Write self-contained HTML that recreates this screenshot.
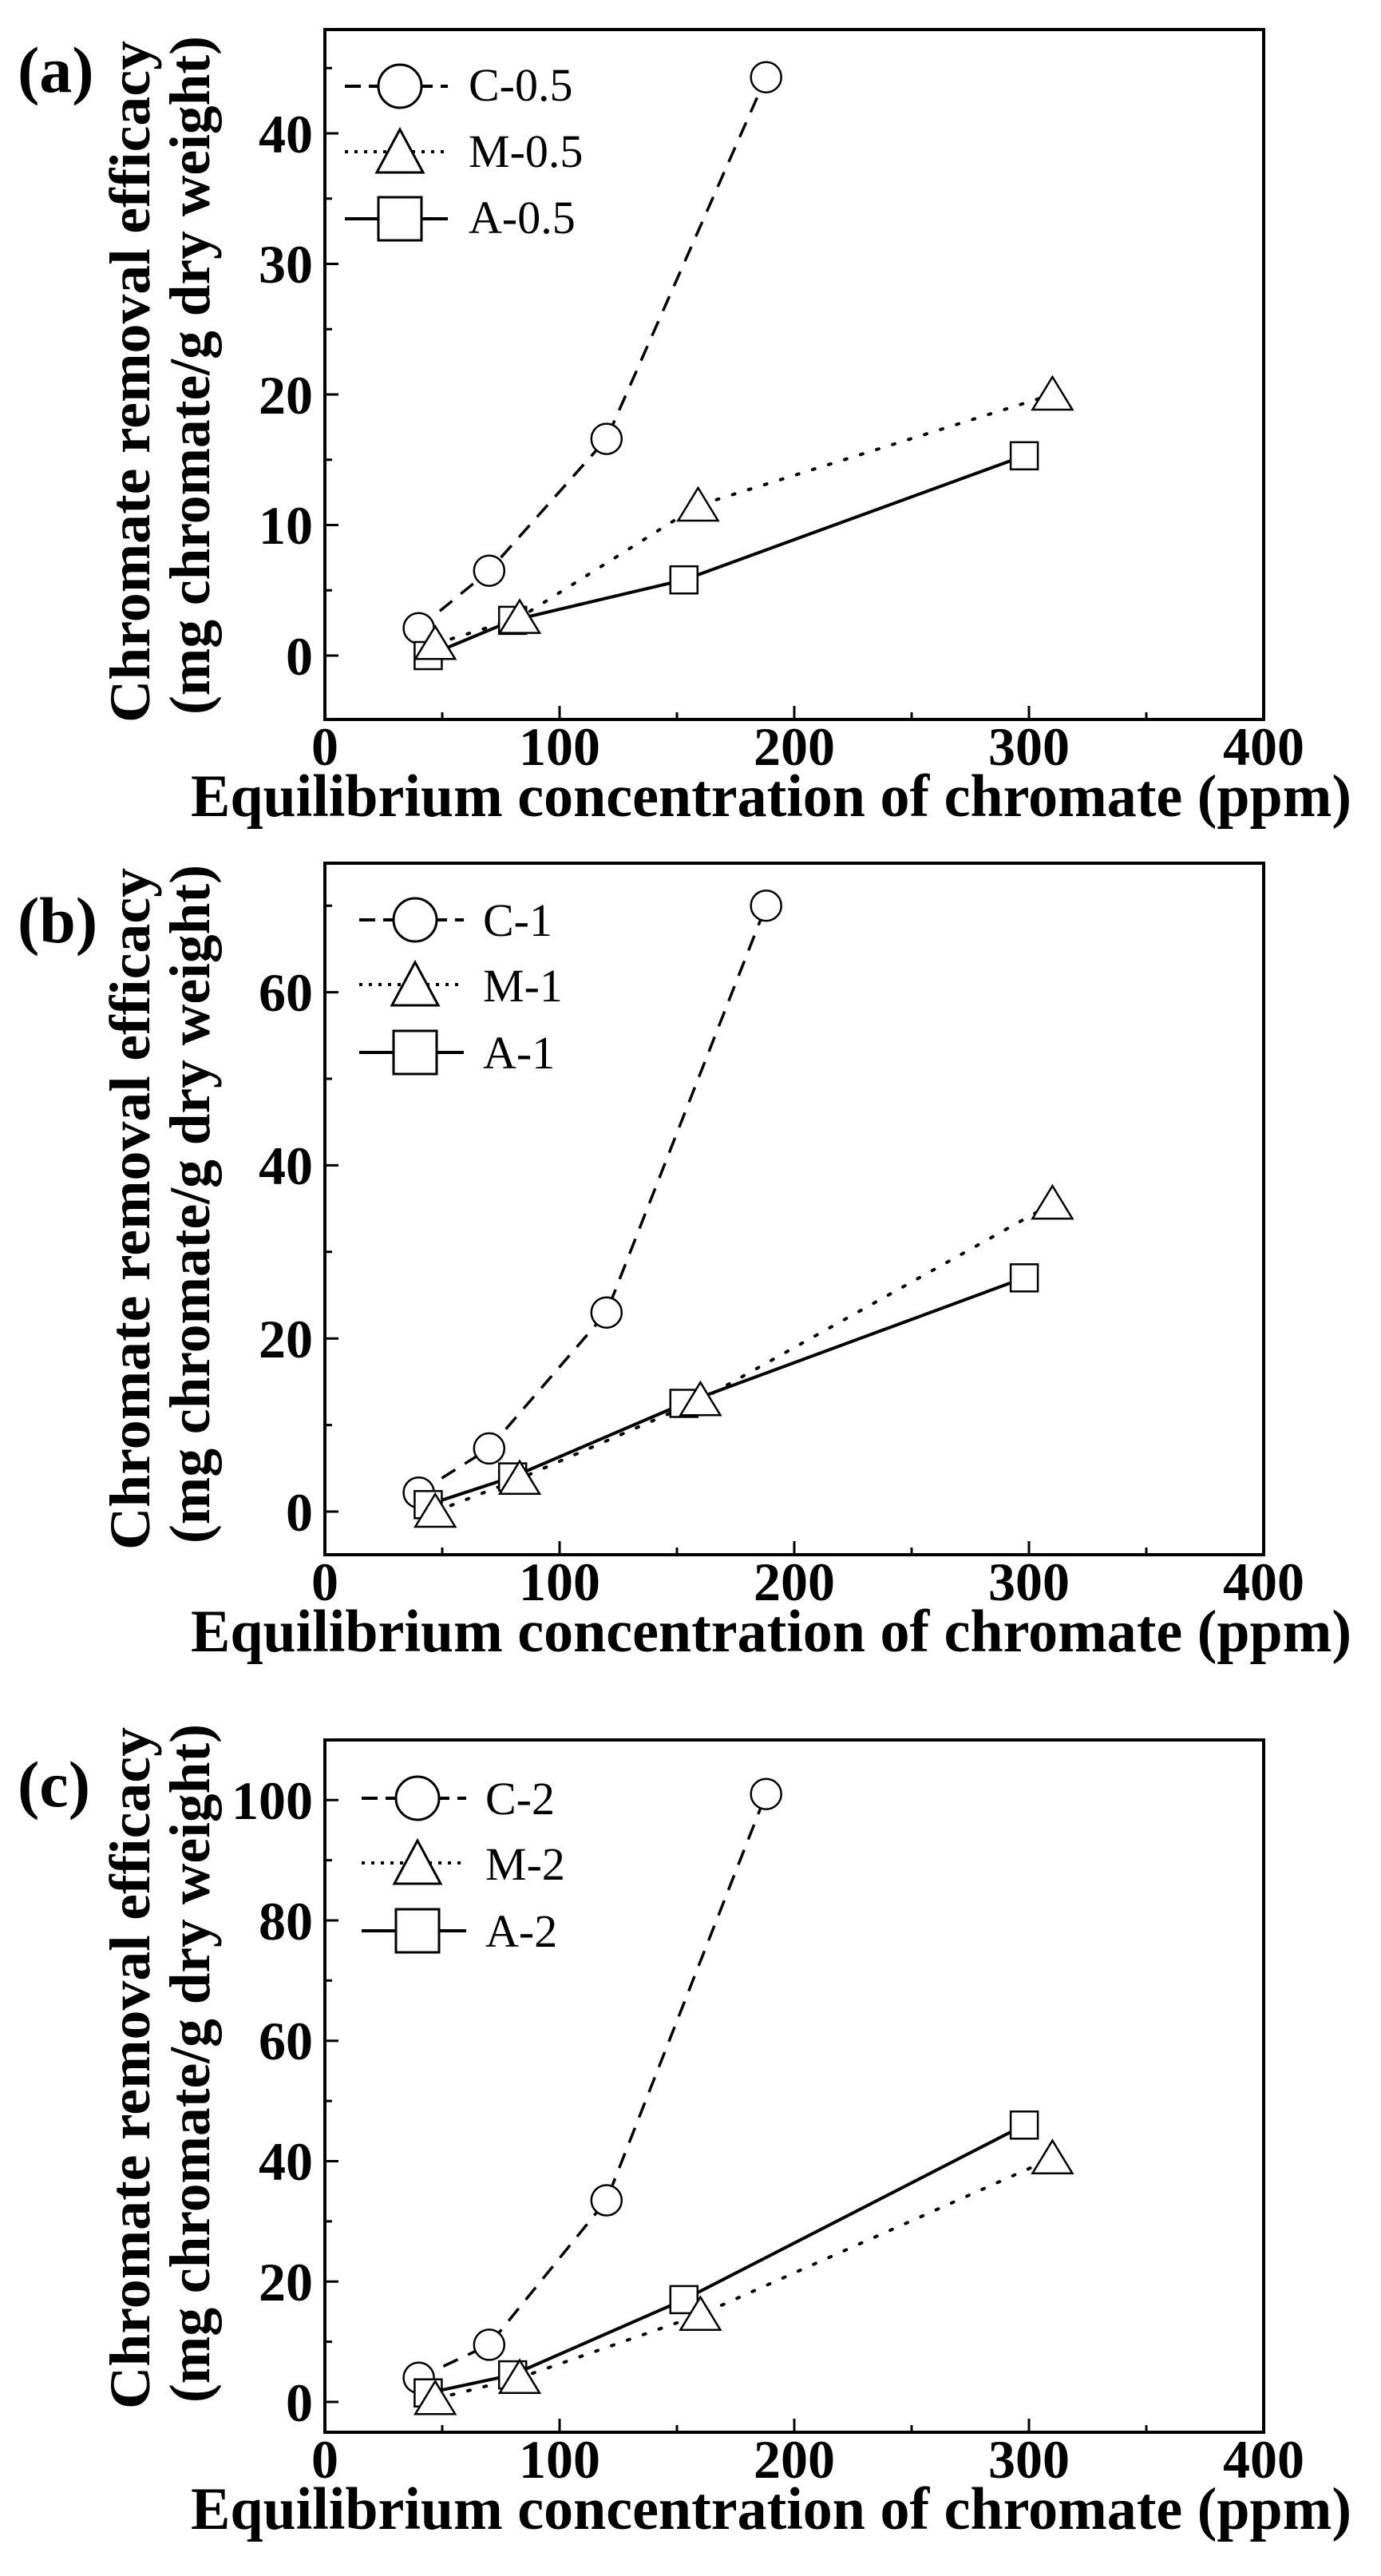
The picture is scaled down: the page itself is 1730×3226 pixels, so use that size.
<!DOCTYPE html>
<html><head><meta charset="utf-8"><style>
html,body{margin:0;padding:0;background:#fff}
svg{display:block}
text{font-family:"Liberation Serif","DejaVu Serif",serif;fill:#000}
.b{font-weight:bold}
.tl{font-size:68px;font-weight:bold}
.lg{font-size:58px}
</style></head><body>
<svg width="1730" height="3226" viewBox="0 0 1730 3226" xmlns="http://www.w3.org/2000/svg">
<g fill="none" stroke="#000">
<!-- ===== Panel A ===== -->
<rect x="407" y="37" width="1176" height="864" stroke-width="4"/>
<g stroke-width="3">
<path d="M554 901v-9M701 901v-17M848 901v-9M995 901v-17M1142 901v-9M1289 901v-17M1436 901v-9"/>
<path d="M407 821h17M407 657.5h17M407 494h17M407 330.5h17M407 167h17M407 739.25h9M407 575.75h9M407 412.25h9M407 248.75h9M407 85.25h9"/>
</g>
<polyline points="524.6,786.7 612.8,714.7 759.8,549.6 959.7,96.7" stroke-width="3.5" stroke-dasharray="20,14"/>
<polyline points="545.2,806.3 651,773.6 874.5,633 1318.4,494" stroke-width="4" stroke-dasharray="3,18" stroke-linecap="round"/>
<polyline points="536.4,821 642.2,776.9 856.8,726.2 1283.1,570.8" stroke-width="4"/>
<g fill="#fff" stroke-width="2.5">
<circle cx="524.6" cy="786.7" r="19"/><circle cx="612.8" cy="714.7" r="19"/><circle cx="759.8" cy="549.6" r="19"/><circle cx="959.7" cy="96.7" r="19"/>
<rect x="519.4" y="804" width="34" height="34"/><rect x="625.2" y="759.9" width="34" height="34"/><rect x="839.8" y="709.2" width="34" height="34"/><rect x="1266.1" y="553.8" width="34" height="34"/>
<polygon points="545.2,784.3 520.2,825.3 570.2,825.3"/><polygon points="651,751.6 626,792.6 676,792.6"/><polygon points="874.5,611 849.5,652 899.5,652"/><polygon points="1318.4,472 1293.4,513 1343.4,513"/>
</g>
<line x1="432" y1="108" x2="561" y2="108" stroke-width="4" stroke-dasharray="20,10"/>
<line x1="432" y1="190" x2="561" y2="190" stroke-width="4" stroke-dasharray="4,8"/>
<line x1="432" y1="274" x2="561" y2="274" stroke-width="4"/>
<g fill="#fff" stroke-width="3">
<circle cx="501" cy="108" r="27"/>
<polygon points="501,162 472,216 530,216"/>
<rect x="474" y="247" width="54" height="54"/>
</g>

<!-- ===== Panel B ===== -->
<rect x="407" y="1081" width="1176" height="866" stroke-width="4"/>
<g stroke-width="3">
<path d="M554 1947v-9M701 1947v-17M848 1947v-9M995 1947v-17M1142 1947v-9M1289 1947v-17M1436 1947v-9"/>
<path d="M407 1893h17M407 1676.2h17M407 1459.4h17M407 1242.6h17M407 1784.6h9M407 1567.8h9M407 1351h9M407 1134.2h9"/>
</g>
<polyline points="524.6,1869.2 612.8,1813.9 759.8,1643.7 959.7,1134.2" stroke-width="3.5" stroke-dasharray="20,14"/>
<polyline points="545.2,1893 651,1851.8 877.4,1753.2 1318.4,1507.1" stroke-width="4" stroke-dasharray="3,18" stroke-linecap="round"/>
<polyline points="536.4,1884.3 642.2,1849.6 856.8,1757.5 1283.1,1600.3" stroke-width="4"/>
<g fill="#fff" stroke-width="2.5">
<circle cx="524.6" cy="1869.2" r="19"/><circle cx="612.8" cy="1813.9" r="19"/><circle cx="759.8" cy="1643.7" r="19"/><circle cx="959.7" cy="1134.2" r="19"/>
<rect x="519.4" y="1867.3" width="34" height="34"/><rect x="625.2" y="1832.6" width="34" height="34"/><rect x="839.8" y="1740.5" width="34" height="34"/><rect x="1266.1" y="1583.3" width="34" height="34"/>
<polygon points="545.2,1871 520.2,1912 570.2,1912"/><polygon points="651,1829.8 626,1870.8 676,1870.8"/><polygon points="877.4,1731.2 852.4,1772.2 902.4,1772.2"/><polygon points="1318.4,1485.1 1293.4,1526.1 1343.4,1526.1"/>
</g>
<line x1="450" y1="1152" x2="581" y2="1152" stroke-width="4" stroke-dasharray="20,10"/>
<line x1="450" y1="1233" x2="581" y2="1233" stroke-width="4" stroke-dasharray="4,8"/>
<line x1="450" y1="1318" x2="581" y2="1318" stroke-width="4"/>
<g fill="#fff" stroke-width="3">
<circle cx="520" cy="1152" r="27"/>
<polygon points="520,1205 491,1259 549,1259"/>
<rect x="493" y="1291" width="54" height="54"/>
</g>

<!-- ===== Panel C ===== -->
<rect x="407" y="2179" width="1176" height="867" stroke-width="4"/>
<g stroke-width="3">
<path d="M554 3046v-9M701 3046v-17M848 3046v-9M995 3046v-17M1142 3046v-9M1289 3046v-17M1436 3046v-9"/>
<path d="M407 3008h17M407 2857.2h17M407 2706.5h17M407 2555.7h17M407 2405h17M407 2254.2h17M407 2932.6h9M407 2781.9h9M407 2631.1h9M407 2480.3h9M407 2329.6h9"/>
</g>
<polyline points="524.6,2977.8 612.8,2936.4 759.8,2755.5 959.7,2246.7" stroke-width="3.5" stroke-dasharray="20,14"/>
<polyline points="545.2,3004.2 651,2977.8 877.4,2898.7 1318.4,2702.7" stroke-width="4" stroke-dasharray="3,18" stroke-linecap="round"/>
<polyline points="536.4,2996.7 642.2,2974.1 856.8,2879.9 1283.1,2661.3" stroke-width="4"/>
<g fill="#fff" stroke-width="2.5">
<circle cx="524.6" cy="2977.8" r="19"/><circle cx="612.8" cy="2936.4" r="19"/><circle cx="759.8" cy="2755.5" r="19"/><circle cx="959.7" cy="2246.7" r="19"/>
<rect x="519.4" y="2979.7" width="34" height="34"/><rect x="625.2" y="2957.1" width="34" height="34"/><rect x="839.8" y="2862.9" width="34" height="34"/><rect x="1266.1" y="2644.3" width="34" height="34"/>
<polygon points="545.2,2982.2 520.2,3023.2 570.2,3023.2"/><polygon points="651,2955.8 626,2996.8 676,2996.8"/><polygon points="877.4,2876.7 852.4,2917.7 902.4,2917.7"/><polygon points="1318.4,2680.7 1293.4,2721.7 1343.4,2721.7"/>
</g>
<line x1="453" y1="2252" x2="584" y2="2252" stroke-width="4" stroke-dasharray="20,10"/>
<line x1="453" y1="2333" x2="584" y2="2333" stroke-width="4" stroke-dasharray="4,8"/>
<line x1="453" y1="2418" x2="584" y2="2418" stroke-width="4"/>
<g fill="#fff" stroke-width="3">
<circle cx="523" cy="2252" r="27"/>
<polygon points="523,2305 494,2359 552,2359"/>
<rect x="496" y="2391" width="54" height="54"/>
</g>
</g>

<g class="lg">
<text x="587" y="126">C-0.5</text><text x="587" y="209">M-0.5</text><text x="587" y="292">A-0.5</text>
<text x="605" y="1172">C-1</text><text x="605" y="1254">M-1</text><text x="605" y="1338">A-1</text>
<text x="608" y="2272">C-2</text><text x="608" y="2354">M-2</text><text x="608" y="2438">A-2</text>
</g>

<g class="b" font-size="82">
<text x="22" y="115">(a)</text>
<text x="22" y="1180">(b)</text>
<text x="22" y="2262">(c)</text>
</g>

<g class="tl" text-anchor="end">
<text x="392" y="845">0</text><text x="392" y="681">10</text><text x="392" y="518">20</text><text x="392" y="354">30</text><text x="392" y="191">40</text>
<text x="392" y="1917">0</text><text x="392" y="1700">20</text><text x="392" y="1483">40</text><text x="392" y="1266">60</text>
<text x="392" y="3032">0</text><text x="392" y="2881">20</text><text x="392" y="2730">40</text><text x="392" y="2579">60</text><text x="392" y="2429">80</text><text x="392" y="2278">100</text>
</g>

<g class="tl" text-anchor="middle">
<text x="407" y="958">0</text><text x="701" y="958">100</text><text x="995" y="958">200</text><text x="1289" y="958">300</text><text x="1583" y="958">400</text>
<text x="407" y="2004">0</text><text x="701" y="2004">100</text><text x="995" y="2004">200</text><text x="1289" y="2004">300</text><text x="1583" y="2004">400</text>
<text x="407" y="3103">0</text><text x="701" y="3103">100</text><text x="995" y="3103">200</text><text x="1289" y="3103">300</text><text x="1583" y="3103">400</text>
</g>

<g class="b" font-size="75">
<text x="239" y="1022" textLength="1454" lengthAdjust="spacingAndGlyphs">Equilibrium  concentration of chromate (ppm)</text>
<text x="239" y="2068" textLength="1454" lengthAdjust="spacingAndGlyphs">Equilibrium  concentration of chromate (ppm)</text>
<text x="239" y="3167" textLength="1454" lengthAdjust="spacingAndGlyphs">Equilibrium  concentration of chromate (ppm)</text>
</g>

<g class="b" font-size="72" text-anchor="middle">
<text transform="translate(187,478) rotate(-90)" textLength="854" lengthAdjust="spacingAndGlyphs">Chromate removal efficacy</text>
<text transform="translate(262,470) rotate(-90)" textLength="850" lengthAdjust="spacingAndGlyphs">(mg chromate/g dry weight)</text>
<text transform="translate(187,1514) rotate(-90)" textLength="854" lengthAdjust="spacingAndGlyphs">Chromate removal efficacy</text>
<text transform="translate(262,1508) rotate(-90)" textLength="850" lengthAdjust="spacingAndGlyphs">(mg chromate/g dry weight)</text>
<text transform="translate(187,2590) rotate(-90)" textLength="854" lengthAdjust="spacingAndGlyphs">Chromate removal efficacy</text>
<text transform="translate(262,2584) rotate(-90)" textLength="850" lengthAdjust="spacingAndGlyphs">(mg chromate/g dry weight)</text>
</g>
</svg>
</body></html>
